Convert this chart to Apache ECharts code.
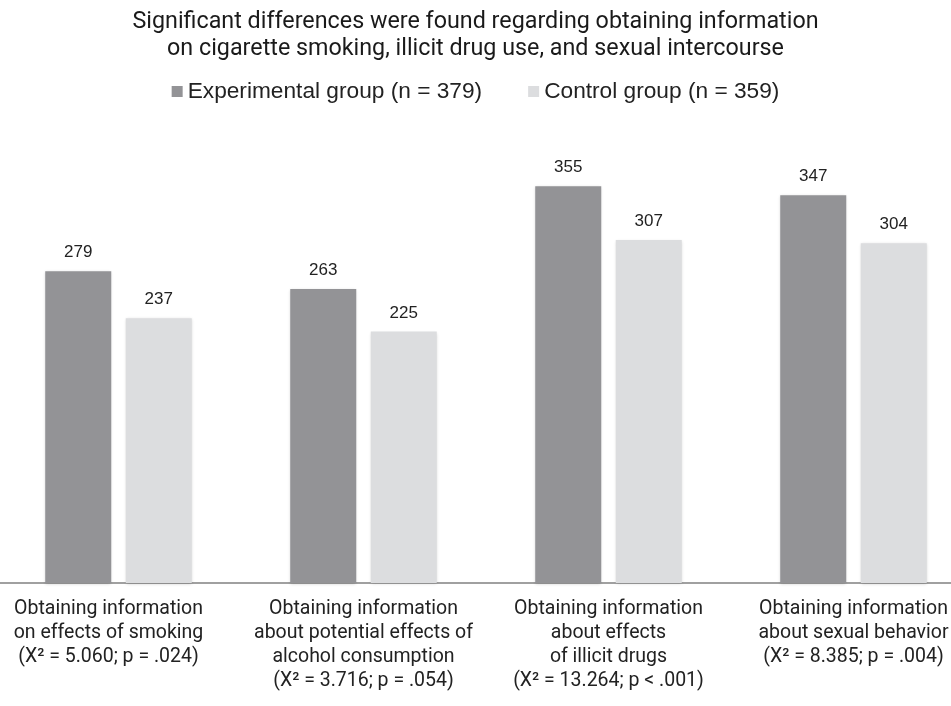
<!DOCTYPE html>
<html>
<head>
<meta charset="utf-8">
<script src="https://cdn.jsdelivr.net/npm/echarts@6/dist/echarts.min.js"></script>
<style>
html,body{margin:0;padding:0;background:#fff;}
#main{width:951px;height:706px;}
</style>
</head>
<body>
<div id="main"></div>
<script>
var categories = [
	'Obtaining information\non effects of smoking\n(X² = 5.060; p = .024)',
	'Obtaining information\nabout potential effects of\nalcohol consumption\n(X² = 3.716; p = .054)',
	'Obtaining information\nabout effects\nof illicit drugs\n(X² = 13.264; p < .001)',
	'Obtaining information\nabout sexual behavior\n(X² = 8.385; p = .004)'
];
var seriesNames = ['Experimental group (n = 379)', 'Control group (n = 359)'];
var experimental = [279, 263, 355, 347];
var control = [237, 225, 307, 304];

// small horizontal nudge of each axis label (px, negative = left)
var labelShift = [-10, 0, 0, 0];

var myChart = echarts.init(document.getElementById('main'));

function makeBar(name, data, color){
	return {
		name: name,
		type: 'bar',
		data: data,
		barWidth: 66,
		barGap: '22%',
		itemStyle: {
			color: color,
			shadowBlur: 3,
			shadowColor: 'rgba(0,0,0,0.18)',
			shadowOffsetY: 1
		},
		label: {
			show: true,
			position: 'top',
			distance: 10,
			color: '#222',
			fontSize: 17,
			fontFamily: 'Liberation Sans, Arial, sans-serif'
		}
	};
}

var axisData = [];
for(var i = 0; i < categories.length; i++){
	var s = labelShift[i];
	axisData.push({
		value: categories[i],
		textStyle: {
			padding: s < 0 ? [0, -2 * s, 0, 0] : [0, 0, 0, 2 * s]
		}
	});
}

var option = {
	animation: false,
	title: {
		text: 'Significant differences were found regarding obtaining information\non cigarette smoking, illicit drug use, and sexual intercourse',
		left: 'center',
		top: 9,
		padding: 0,
		textStyle: {
			fontFamily: 'Roboto, sans-serif',
			fontWeight: 'normal',
			fontSize: 23.3,
			lineHeight: 27,
			color: '#1a1a1a'
		}
	},
	legend: {
		top: 80,
		left: 'center',
		padding: 0,
		itemWidth: 11,
		itemHeight: 11,
		itemGap: 46,
		icon: 'rect',
		data: seriesNames,
		textStyle: {
			fontFamily: 'Liberation Sans, Arial, sans-serif',
			fontSize: 22.7,
			color: '#222'
		}
	},
	grid: {
		left: -4,
		width: 980,
		top: 136,
		bottom: 123,
		outerBoundsMode: 'none',
		containLabel: false
	},
	xAxis: {
		type: 'category',
		data: axisData,
		axisLine: { lineStyle: { color: '#a0a0a0', width: 2 } },
		axisTick: { show: false },
		axisLabel: {
			interval: 0,
			margin: 14,
			color: '#222',
			fontFamily: 'Roboto, sans-serif',
			fontSize: 19.5,
			lineHeight: 24
		}
	},
	yAxis: {
		type: 'value',
		min: 0,
		max: 400,
		show: false,
		splitLine: { show: false }
	},
	series: [
		makeBar(seriesNames[0], experimental, '#939396'),
		makeBar(seriesNames[1], control, '#dcdddf')
	]
};
myChart.setOption(option);
</script>
</body>
</html>
